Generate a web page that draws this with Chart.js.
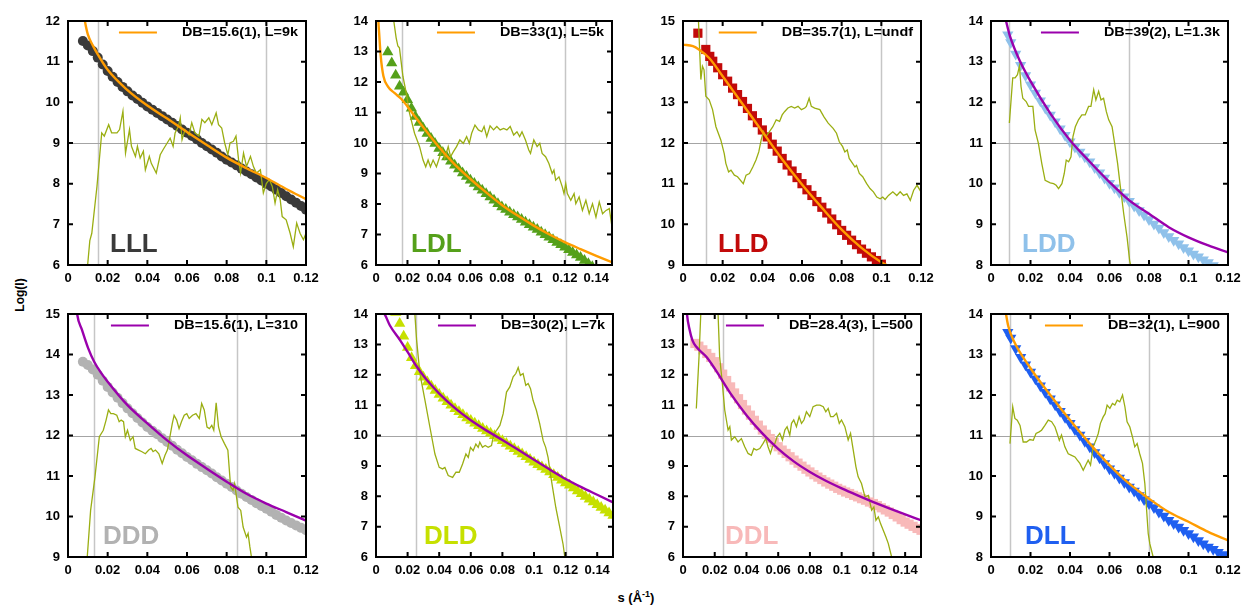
<!DOCTYPE html>
<html>
<head>
<meta charset="utf-8">
<title>SAXS fits</title>
<script src="https://cdn.jsdelivr.net/npm/chart.js@4/dist/chart.umd.min.js"></script>
<style>
  body { margin: 0; background: #fff; font-family: "Liberation Sans", Arial, sans-serif; }
  #page { position: relative; width: 1246px; height: 606px; overflow: hidden; }
  .panel { position: absolute; }
  #ytitle { position: absolute; left: -10px; top: 288px; width: 60px; text-align: center;
            font-weight: bold; font-size: 12px; transform: rotate(-90deg); }
  #xtitle { position: absolute; left: 596px; top: 589px; width: 80px; text-align: center;
            font-weight: bold; font-size: 13px; }
  #xtitle sup { font-size: 9px; }
</style>
</head>
<body>
<div id="page">
  <div id="ytitle">Log(I)</div>
  <div id="xtitle">s (Å<sup>-1</sup>)</div>
</div>
<script>
// tick values
const sTicks12 = [0, 0.02, 0.04, 0.06, 0.08, 0.1, 0.12];
const sTicks15 = [0, 0.02, 0.04, 0.06, 0.08, 0.1, 0.12, 0.14];
const logTicks6to12 = [6, 7, 8, 9, 10, 11, 12];
const logTicks6to14 = [6, 7, 8, 9, 10, 11, 12, 13, 14];
const logTicks9to15 = [9, 10, 11, 12, 13, 14, 15];
const logTicks8to14 = [8, 9, 10, 11, 12, 13, 14];

// ---- LLL ----
const lllPoints = [[0.0075,11.51],[0.01,11.40],[0.0125,11.26],[0.015,11.10],[0.0175,10.93],[0.02,10.77],[0.0225,10.63],[0.025,10.50],[0.0275,10.38],[0.03,10.27],[0.0325,10.17],[0.035,10.08],[0.0375,9.99],[0.04,9.90],[0.0425,9.82],[0.045,9.74],[0.0475,9.66],[0.05,9.58],[0.0525,9.50],[0.055,9.42],[0.0575,9.33],[0.06,9.25],[0.0625,9.17],[0.065,9.09],[0.0675,9.00],[0.07,8.92],[0.0725,8.84],[0.075,8.76],[0.0775,8.67],[0.08,8.59],[0.0825,8.52],[0.085,8.45],[0.0875,8.37],[0.09,8.30],[0.0925,8.23],[0.095,8.15],[0.0975,8.08],[0.1,8.00],[0.1025,7.93],[0.105,7.85],[0.1075,7.77],[0.11,7.69],[0.1125,7.61],[0.115,7.53],[0.1175,7.45],[0.12,7.36]];
const lllFit = [[0.0075,12.3],[0.0085,12.0],[0.01,11.67],[0.0125,11.4],[0.015,11.18],[0.02,10.8],[0.03,10.3],[0.04,9.92],[0.05,9.6],[0.06,9.27],[0.07,8.95],[0.08,8.64],[0.09,8.38],[0.1,8.14],[0.11,7.87],[0.12,7.62]];
const lllDiff = [[0.0099,6.0],[0.011,6.6],[0.012,6.78],[0.0146,7.93],[0.017,9.25],[0.0183,9.17],[0.0205,9.45],[0.022,9.25],[0.0247,9.25],[0.026,9.33],[0.0277,9.78],[0.029,8.75],[0.031,9.33],[0.032,8.92],[0.034,8.67],[0.035,8.92],[0.0364,8.63],[0.038,8.8],[0.039,8.34],[0.041,8.67],[0.042,8.5],[0.0445,8.26],[0.0465,8.71],[0.048,8.84],[0.05,9.0],[0.0515,9.12],[0.053,8.92],[0.054,9.25],[0.0557,9.41],[0.0566,9.62],[0.0575,9.08],[0.059,9.33],[0.061,9.2],[0.0624,9.5],[0.064,9.25],[0.066,9.17],[0.0675,9.58],[0.069,9.5],[0.071,9.62],[0.0725,9.45],[0.0747,9.74],[0.0759,9.45],[0.0775,9.37],[0.079,9.0],[0.0806,8.71],[0.0817,9.0],[0.0834,9.04],[0.0847,9.17],[0.086,8.59],[0.087,8.26],[0.0885,8.75],[0.09,8.42],[0.092,8.67],[0.0935,8.42],[0.095,8.26],[0.097,8.34],[0.0985,7.77],[0.1,8.0],[0.1015,8.1],[0.103,7.93],[0.1044,7.52],[0.1057,7.85],[0.107,7.6],[0.108,7.19],[0.11,7.11],[0.112,6.78],[0.1136,6.45],[0.1153,7.03],[0.117,6.78],[0.1187,6.62],[0.12,6.78]];
const lllCuts = [0.015, 0.1];

// ---- LDL ----
const ldlPoints = [[0.0075,12.98],[0.01,12.62],[0.0125,12.22],[0.015,11.86],[0.0175,11.66],[0.02,11.42],[0.0225,11.14],[0.025,10.87],[0.0275,10.67],[0.03,10.48],[0.0325,10.31],[0.035,10.15],[0.0375,9.98],[0.04,9.82],[0.0425,9.68],[0.045,9.54],[0.0475,9.40],[0.05,9.27],[0.0525,9.15],[0.055,9.02],[0.0575,8.90],[0.06,8.78],[0.0625,8.67],[0.065,8.56],[0.0675,8.45],[0.07,8.34],[0.0725,8.23],[0.075,8.12],[0.0775,8.01],[0.08,7.90],[0.0825,7.82],[0.085,7.73],[0.0875,7.65],[0.09,7.57],[0.0925,7.49],[0.095,7.40],[0.0975,7.32],[0.1,7.24],[0.1025,7.16],[0.105,7.07],[0.1075,6.99],[0.11,6.91],[0.1125,6.83],[0.115,6.74],[0.1175,6.66],[0.12,6.58],[0.1225,6.50],[0.125,6.41],[0.1275,6.33],[0.13,6.25],[0.1325,6.15],[0.135,6.04],[0.1375,5.94]];
const ldlFit = [[0.001,14.6],[0.0015,14.0],[0.002,13.6],[0.003,12.85],[0.0047,12.2],[0.0075,11.86],[0.0117,11.64],[0.016,11.45],[0.02,11.2],[0.025,10.85],[0.03,10.52],[0.04,9.87],[0.05,9.3],[0.06,8.82],[0.07,8.38],[0.08,7.97],[0.09,7.62],[0.1,7.3],[0.11,7.01],[0.12,6.75],[0.13,6.52],[0.14,6.3],[0.15,6.09]];
const ldlDiff = [[0.0113,14.0],[0.0128,13.45],[0.0139,13.18],[0.0149,13.12],[0.0171,12.19],[0.0192,11.64],[0.0213,10.98],[0.0245,10.32],[0.0277,9.88],[0.0299,9.44],[0.0316,9.22],[0.0331,9.44],[0.0346,9.22],[0.0363,9.44],[0.0384,9.22],[0.0405,9.55],[0.0422,9.82],[0.0437,9.49],[0.0459,9.88],[0.0474,9.55],[0.0491,9.71],[0.0512,9.88],[0.0533,10.1],[0.0555,9.99],[0.0576,10.21],[0.0593,9.99],[0.0608,10.32],[0.0629,10.59],[0.0651,10.43],[0.0672,10.37],[0.0687,10.54],[0.0704,10.21],[0.0725,10.56],[0.0747,10.43],[0.0768,10.54],[0.0789,10.43],[0.0811,10.48],[0.0832,10.43],[0.0853,10.54],[0.0875,10.26],[0.0896,10.37],[0.0913,10.21],[0.0928,10.37],[0.095,10.1],[0.0971,9.77],[0.0982,9.66],[0.1003,10.1],[0.1024,9.88],[0.1041,9.99],[0.1056,9.66],[0.1078,9.55],[0.1099,9.33],[0.112,9.0],[0.1131,9.11],[0.1142,8.78],[0.1163,8.89],[0.1184,8.56],[0.1195,8.34],[0.1206,8.67],[0.1216,8.34],[0.1238,8.12],[0.1259,8.34],[0.127,8.01],[0.1291,8.23],[0.1312,7.79],[0.1334,8.12],[0.1355,7.68],[0.1376,8.01],[0.1398,7.57],[0.1419,8.07],[0.144,7.68],[0.1462,7.79],[0.1483,7.85],[0.15,7.24]];
const ldlCuts = [0.0165, 0.12];

// ---- LLD ----
const lldPoints = [[0.0075,14.70],[0.0115,14.30],[0.0135,14.13],[0.015,14.01],[0.0175,13.85],[0.02,13.68],[0.0225,13.52],[0.025,13.35],[0.0275,13.19],[0.03,13.02],[0.0325,12.85],[0.035,12.67],[0.0375,12.50],[0.04,12.32],[0.0425,12.15],[0.045,11.97],[0.0475,11.80],[0.05,11.62],[0.0525,11.46],[0.055,11.31],[0.0575,11.15],[0.06,11.00],[0.0625,10.85],[0.065,10.71],[0.0675,10.56],[0.07,10.42],[0.0725,10.28],[0.075,10.13],[0.0775,9.99],[0.08,9.85],[0.0825,9.73],[0.085,9.61],[0.0875,9.50],[0.09,9.39],[0.0925,9.29],[0.095,9.20],[0.0975,9.11],[0.1,9.02]];
const lldFit = [[0,14.42],[0.005,14.38],[0.008,14.3],[0.0132,14.09],[0.02,13.64],[0.025,13.3],[0.03,12.96],[0.04,12.28],[0.05,11.6],[0.06,10.98],[0.07,10.41],[0.08,9.87],[0.09,9.42],[0.1,9.07],[0.105,8.95]];
const lldDiff = [[0.0078,15.0],[0.009,13.56],[0.0098,13.89],[0.0106,13.8],[0.0115,13.15],[0.0132,13.06],[0.0149,12.82],[0.0166,12.4],[0.0191,12.07],[0.0208,11.74],[0.0216,11.5],[0.023,11.29],[0.0242,11.33],[0.0259,11.21],[0.0275,11.17],[0.0304,11.0],[0.0318,11.21],[0.0335,11.25],[0.0352,11.41],[0.0368,11.58],[0.0382,11.78],[0.0394,12.07],[0.0406,12.28],[0.0419,12.16],[0.0436,12.28],[0.0453,12.4],[0.047,12.57],[0.0487,12.53],[0.05,12.69],[0.0512,12.77],[0.0529,12.86],[0.0546,12.9],[0.0563,12.86],[0.058,12.9],[0.0597,12.82],[0.0614,12.86],[0.0622,12.9],[0.0636,13.1],[0.0647,12.9],[0.0664,12.86],[0.069,12.82],[0.071,12.65],[0.0732,12.49],[0.0757,12.36],[0.0774,12.24],[0.0788,12.03],[0.0805,11.91],[0.0816,11.78],[0.0828,11.83],[0.0838,11.62],[0.0855,11.5],[0.0867,11.41],[0.0875,11.45],[0.0889,11.25],[0.0906,11.17],[0.0926,11.0],[0.0943,10.88],[0.096,10.8],[0.0977,10.67],[0.0994,10.63],[0.1007,10.67],[0.1019,10.61],[0.1036,10.71],[0.1058,10.8],[0.1078,10.71],[0.1095,10.8],[0.1112,10.71],[0.1129,10.75],[0.1146,10.59],[0.1163,10.84],[0.118,10.96],[0.12,10.8]];
const lldCuts = [0.0115, 0.1];

// ---- LDD ----
const lddPoints = [[0.0085,13.66],[0.01,13.47],[0.0125,13.19],[0.015,12.91],[0.0175,12.66],[0.02,12.43],[0.0225,12.23],[0.025,12.04],[0.0275,11.86],[0.03,11.69],[0.0325,11.52],[0.035,11.35],[0.0375,11.19],[0.04,11.03],[0.0425,10.90],[0.045,10.78],[0.0475,10.66],[0.05,10.54],[0.0525,10.40],[0.055,10.27],[0.0575,10.14],[0.06,10.01],[0.0625,9.90],[0.065,9.79],[0.0675,9.68],[0.07,9.57],[0.0725,9.45],[0.075,9.34],[0.0775,9.23],[0.08,9.12],[0.0825,9.01],[0.085,8.91],[0.0875,8.80],[0.09,8.70],[0.0925,8.61],[0.095,8.52],[0.0975,8.43],[0.1,8.35],[0.1025,8.27],[0.105,8.20],[0.1075,8.13],[0.11,8.06],[0.1125,7.99]];
const lddFit = [[0.0065,14.2],[0.0076,14.0],[0.0096,13.63],[0.0147,13.01],[0.02,12.52],[0.03,11.73],[0.04,11.07],[0.05,10.54],[0.06,10.04],[0.07,9.59],[0.08,9.26],[0.09,8.93],[0.1,8.68],[0.11,8.48],[0.12,8.31]];
const lddDiff = [[0.0093,11.49],[0.011,12.6],[0.0122,12.6],[0.0134,12.68],[0.0144,12.89],[0.0152,12.39],[0.0161,12.1],[0.0178,12.02],[0.019,11.9],[0.0212,11.9],[0.0223,11.32],[0.024,10.99],[0.0257,10.5],[0.0274,10.08],[0.03,10.02],[0.0317,10.0],[0.033,9.96],[0.0342,9.88],[0.0359,10.0],[0.0371,10.25],[0.0381,10.58],[0.0393,10.54],[0.0405,10.66],[0.0415,11.16],[0.0427,11.4],[0.0443,11.57],[0.046,11.69],[0.0477,11.69],[0.0494,11.9],[0.0506,11.9],[0.052,12.31],[0.0531,12.06],[0.0545,12.27],[0.0557,12.06],[0.057,12.1],[0.0584,11.77],[0.0596,11.57],[0.0613,11.4],[0.0626,10.99],[0.0641,10.5],[0.0655,9.92],[0.0672,9.26],[0.0689,8.68],[0.0702,8.11],[0.0709,7.94]];
const lddCuts = [0.0093, 0.07];

// ---- DDD ----
const dddPoints = [[0.0075,13.82],[0.01,13.74],[0.0125,13.63],[0.015,13.50],[0.0175,13.35],[0.02,13.20],[0.0225,13.06],[0.025,12.93],[0.0275,12.80],[0.03,12.67],[0.0325,12.55],[0.035,12.43],[0.0375,12.32],[0.04,12.21],[0.0425,12.12],[0.045,12.03],[0.0475,11.93],[0.05,11.84],[0.0525,11.75],[0.055,11.65],[0.0575,11.56],[0.06,11.47],[0.0625,11.39],[0.065,11.30],[0.0675,11.22],[0.07,11.14],[0.0725,11.06],[0.075,10.97],[0.0775,10.89],[0.08,10.81],[0.0825,10.73],[0.085,10.64],[0.0875,10.56],[0.09,10.48],[0.0925,10.41],[0.095,10.33],[0.0975,10.26],[0.1,10.19],[0.1025,10.12],[0.105,10.04],[0.1075,9.97],[0.11,9.90],[0.1125,9.84],[0.115,9.78],[0.1175,9.72],[0.12,9.66]];
const dddFit = [[0.004,15.3],[0.0046,15.0],[0.0071,14.6],[0.0102,14.15],[0.0132,13.82],[0.0165,13.56],[0.02,13.33],[0.03,12.75],[0.04,12.3],[0.05,11.88],[0.06,11.51],[0.07,11.18],[0.08,10.86],[0.09,10.56],[0.1,10.32],[0.11,10.11],[0.12,9.9]];
const dddDiff = [[0.0097,9.0],[0.0114,10.15],[0.0136,10.98],[0.0158,11.97],[0.0178,12.13],[0.0192,12.38],[0.0204,12.63],[0.0216,12.54],[0.0229,12.54],[0.0246,12.5],[0.0258,12.34],[0.0268,12.38],[0.028,12.34],[0.0289,11.97],[0.03,12.13],[0.0314,11.88],[0.0328,11.97],[0.0339,11.68],[0.0356,11.64],[0.0373,11.6],[0.039,11.55],[0.0407,11.64],[0.0419,11.68],[0.0429,11.6],[0.0441,11.64],[0.0458,11.55],[0.0475,11.31],[0.0489,11.51],[0.0501,11.64],[0.0514,11.97],[0.0526,12.3],[0.0535,12.5],[0.0548,12.38],[0.056,12.17],[0.0572,12.34],[0.0586,12.5],[0.0599,12.54],[0.0611,12.42],[0.0628,12.5],[0.0645,12.54],[0.0662,12.42],[0.0674,12.79],[0.0687,12.63],[0.0701,12.21],[0.0713,12.17],[0.0725,12.25],[0.0735,12.13],[0.0747,12.81],[0.0759,12.21],[0.0772,11.97],[0.0789,11.8],[0.0806,11.64],[0.082,10.73],[0.0832,10.65],[0.084,10.81],[0.0857,10.23],[0.0871,10.15],[0.0883,9.74],[0.09,9.49],[0.0908,9.58],[0.0917,9.25],[0.0925,9.0]];
const dddCuts = [0.013, 0.085];

// ---- DLD ----
const dldPoints = [[0.0125,14.05],[0.015,13.69],[0.0175,13.27],[0.02,12.90],[0.0225,12.56],[0.025,12.30],[0.0275,12.10],[0.03,11.92],[0.0325,11.76],[0.035,11.62],[0.0375,11.48],[0.04,11.35],[0.0425,11.23],[0.045,11.11],[0.0475,11.00],[0.05,10.88],[0.0525,10.78],[0.055,10.68],[0.0575,10.58],[0.06,10.49],[0.0625,10.40],[0.065,10.32],[0.0675,10.23],[0.07,10.15],[0.0725,10.07],[0.075,9.99],[0.0775,9.91],[0.08,9.83],[0.0825,9.74],[0.085,9.65],[0.0875,9.56],[0.09,9.47],[0.0925,9.39],[0.095,9.30],[0.0975,9.21],[0.1,9.12],[0.1025,9.04],[0.105,8.96],[0.1075,8.88],[0.11,8.80],[0.1125,8.71],[0.115,8.62],[0.1175,8.53],[0.12,8.44],[0.1225,8.36],[0.125,8.27],[0.1275,8.17],[0.13,8.08],[0.1325,7.99],[0.135,7.90],[0.1375,7.81],[0.14,7.72],[0.1425,7.63],[0.145,7.54],[0.1475,7.45],[0.15,7.37]];
const dldFit = [[0.003,14.15],[0.0057,13.97],[0.0088,13.62],[0.0152,13.14],[0.02,12.75],[0.025,12.33],[0.03,11.97],[0.035,11.66],[0.04,11.38],[0.05,10.9],[0.06,10.5],[0.07,10.16],[0.08,9.85],[0.09,9.53],[0.1,9.2],[0.11,8.88],[0.12,8.57],[0.13,8.3],[0.14,8.05],[0.15,7.8]];
const dldDiff = [[0.0246,14.0],[0.0257,13.14],[0.0278,12.04],[0.031,11.16],[0.0341,10.28],[0.0373,9.39],[0.04,8.95],[0.0421,8.9],[0.0436,8.95],[0.0457,8.68],[0.0485,8.62],[0.0506,8.79],[0.0527,8.79],[0.0548,9.06],[0.0569,9.39],[0.0584,9.28],[0.0598,9.61],[0.0615,9.5],[0.0632,9.72],[0.0647,9.61],[0.0657,9.78],[0.0674,9.61],[0.0691,9.67],[0.071,9.61],[0.0731,9.67],[0.0746,10.06],[0.0763,10.17],[0.0784,10.33],[0.0805,10.72],[0.0826,11.43],[0.0847,11.6],[0.0868,11.93],[0.0885,12.04],[0.09,12.24],[0.0914,11.98],[0.0931,12.04],[0.0948,11.65],[0.0963,11.71],[0.0978,11.54],[0.0994,11.16],[0.1015,10.83],[0.1036,10.39],[0.1058,9.83],[0.1074,9.61],[0.1089,9.28],[0.1104,8.73],[0.1121,8.18],[0.1138,7.63],[0.1159,7.08],[0.1184,6.42],[0.1195,6.0]];
const dldCuts = [0.025, 0.12];

// ---- DDL ----
const ddlPoints = [[0.0075,13.03],[0.01,12.94],[0.0125,12.82],[0.015,12.70],[0.0175,12.57],[0.02,12.43],[0.0225,12.23],[0.025,12.02],[0.0275,11.81],[0.03,11.60],[0.0325,11.40],[0.035,11.21],[0.0375,11.02],[0.04,10.84],[0.0425,10.67],[0.045,10.50],[0.0475,10.34],[0.05,10.18],[0.0525,10.04],[0.055,9.90],[0.0575,9.77],[0.06,9.63],[0.0625,9.52],[0.065,9.41],[0.0675,9.30],[0.07,9.19],[0.0725,9.09],[0.075,8.99],[0.0775,8.89],[0.08,8.80],[0.0825,8.71],[0.085,8.63],[0.0875,8.55],[0.09,8.47],[0.0925,8.40],[0.095,8.33],[0.0975,8.26],[0.1,8.20],[0.1025,8.14],[0.105,8.09],[0.1075,8.03],[0.11,7.98],[0.1125,7.92],[0.115,7.87],[0.1175,7.81],[0.12,7.76],[0.1225,7.69],[0.125,7.62],[0.1275,7.55],[0.13,7.48],[0.1325,7.40],[0.135,7.32],[0.1375,7.23],[0.14,7.15],[0.1425,7.08],[0.145,7.01],[0.1475,6.94],[0.15,6.88]];
const ddlFit = [[0.002,14.4],[0.0025,14.0],[0.0042,13.47],[0.0059,13.14],[0.0084,12.92],[0.0147,12.59],[0.02,12.2],[0.03,11.38],[0.04,10.67],[0.05,10.07],[0.06,9.56],[0.07,9.14],[0.08,8.8],[0.09,8.51],[0.1,8.26],[0.11,8.03],[0.12,7.81],[0.13,7.6],[0.14,7.4],[0.15,7.21]];
const ddlDiff = [[0.0084,10.89],[0.0101,12.59],[0.0112,14.0],[0.0165,null],[0.0221,14.0],[0.0231,12.59],[0.0248,11.71],[0.0263,10.84],[0.0284,10.18],[0.0295,10.29],[0.0305,9.85],[0.0326,9.96],[0.0347,9.79],[0.0368,9.9],[0.0389,9.63],[0.041,9.41],[0.0431,9.35],[0.0446,9.57],[0.0463,9.52],[0.0484,9.57],[0.0505,9.74],[0.0522,9.9],[0.0536,9.63],[0.0551,9.41],[0.0564,9.63],[0.0579,9.74],[0.0593,9.96],[0.061,10.07],[0.0627,9.85],[0.0642,10.18],[0.0656,10.29],[0.0673,10.01],[0.0684,10.4],[0.0698,10.51],[0.0715,10.29],[0.0732,10.62],[0.0747,10.4],[0.0762,10.51],[0.0778,10.78],[0.0799,10.62],[0.082,10.95],[0.0842,11.0],[0.0863,11.0],[0.0884,10.95],[0.09,10.78],[0.0915,10.89],[0.093,10.62],[0.0947,10.62],[0.0968,10.73],[0.0985,10.4],[0.0999,10.51],[0.102,10.29],[0.1041,9.85],[0.1056,10.07],[0.1073,9.52],[0.109,8.97],[0.1104,8.64],[0.1125,8.42],[0.1147,7.98],[0.1168,8.03],[0.1189,7.54],[0.1203,7.65],[0.1216,7.21],[0.1231,7.32],[0.1245,7.1],[0.1262,6.88],[0.1279,6.66],[0.1294,6.44],[0.1315,6.0]];
const ddlCuts = [0.025, 0.12];

// ---- DLL ----
const dllPoints = [[0.0085,13.55],[0.01,13.41],[0.0125,13.15],[0.015,12.93],[0.0175,12.75],[0.02,12.57],[0.0225,12.40],[0.025,12.23],[0.0275,12.07],[0.03,11.91],[0.0325,11.76],[0.035,11.60],[0.0375,11.45],[0.04,11.30],[0.0425,11.15],[0.045,11.01],[0.0475,10.86],[0.05,10.72],[0.0525,10.58],[0.055,10.45],[0.0575,10.31],[0.06,10.18],[0.0625,10.07],[0.065,9.95],[0.0675,9.84],[0.07,9.73],[0.0725,9.63],[0.075,9.52],[0.0775,9.42],[0.08,9.32],[0.0825,9.22],[0.085,9.11],[0.0875,9.01],[0.09,8.91],[0.0925,8.83],[0.095,8.74],[0.0975,8.66],[0.1,8.58],[0.1025,8.50],[0.105,8.41],[0.1075,8.33],[0.11,8.25],[0.1125,8.19],[0.115,8.12],[0.1175,8.06],[0.12,8.00]];
const dllFit = [[0.007,14.2],[0.0076,14.0],[0.0088,13.69],[0.0113,13.36],[0.02,12.66],[0.03,12.0],[0.04,11.38],[0.05,10.8],[0.06,10.27],[0.07,9.81],[0.08,9.44],[0.09,9.11],[0.1,8.87],[0.11,8.62],[0.12,8.41]];
const dllDiff = [[0.0096,10.8],[0.011,11.71],[0.0121,11.42],[0.0133,11.38],[0.0147,11.25],[0.0163,10.84],[0.018,10.84],[0.0197,10.9],[0.0214,10.88],[0.0228,11.05],[0.0244,11.09],[0.0256,11.13],[0.0273,11.25],[0.029,11.38],[0.0307,11.34],[0.0324,11.21],[0.0335,11.05],[0.0346,10.88],[0.0357,11.01],[0.0374,10.72],[0.0391,10.55],[0.0408,10.51],[0.0425,10.47],[0.0437,10.39],[0.045,10.31],[0.0467,10.14],[0.048,10.27],[0.0492,10.39],[0.0504,10.27],[0.0517,10.72],[0.0531,10.88],[0.0543,11.05],[0.0554,11.3],[0.0568,11.46],[0.0578,11.54],[0.0588,11.75],[0.0602,11.67],[0.0615,11.79],[0.0627,11.75],[0.0639,11.87],[0.0652,11.83],[0.0666,12.0],[0.0678,11.71],[0.0689,11.34],[0.0703,11.21],[0.0716,10.97],[0.0728,10.72],[0.074,10.8],[0.0753,10.55],[0.0767,10.31],[0.0779,9.81],[0.0787,9.23],[0.0796,8.58],[0.0804,8.33],[0.0821,8.0]];
const dllCuts = [0.0095, 0.08];

const ORANGE = '#ff9c00';
const PURPLE = '#9a00ac';
const DIFF_GREEN = '#9aae12';
const FONT = '"Liberation Sans", Arial, sans-serif';

const panels = [
  { name: 'LLL', left: 68,  top: 21,  w: 238, h: 244, sMax: 0.12, sTicks: sTicks12, yTicks: logTicks6to12, level: 9,
    color: '#3a3a3a', shape: 'circle', fitColor: ORANGE, note: 'DB=15.6(1), L=9k', labelDx: 42,
    points: lllPoints, fit: lllFit, diff: lllDiff, cuts: lllCuts },
  { name: 'LDL', left: 376, top: 21,  w: 236, h: 244, sMax: 0.15, sTicks: sTicks15, yTicks: logTicks6to14, level: 10,
    color: '#55a01a', shape: 'triangle', fitColor: ORANGE, note: 'DB=33(1), L=5k', labelDx: 35,
    points: ldlPoints, fit: ldlFit, diff: ldlDiff, cuts: ldlCuts },
  { name: 'LLD', left: 683, top: 21,  w: 238, h: 244, sMax: 0.12, sTicks: sTicks12, yTicks: logTicks9to15, level: 12,
    color: '#c20a0a', shape: 'rect', fitColor: ORANGE, note: 'DB=35.7(1), L=undf', labelDx: 35,
    points: lldPoints, fit: lldFit, diff: lldDiff, cuts: lldCuts },
  { name: 'LDD', left: 991, top: 21,  w: 237, h: 244, sMax: 0.12, sTicks: sTicks12, yTicks: logTicks8to14, level: 11,
    color: '#8fc1ea', shape: 'triangle', down: true, fitColor: PURPLE, note: 'DB=39(2), L=1.3k', labelDx: 31,
    points: lddPoints, fit: lddFit, diff: lddDiff, cuts: lddCuts },
  { name: 'DDD', left: 68,  top: 314, w: 238, h: 243, sMax: 0.12, sTicks: sTicks12, yTicks: logTicks9to15, level: 12,
    color: '#b2b2b2', shape: 'circle', fitColor: PURPLE, note: 'DB=15.6(1), L=310', labelDx: 35,
    points: dddPoints, fit: dddFit, diff: dddDiff, cuts: dddCuts },
  { name: 'DLD', left: 376, top: 314, w: 237, h: 243, sMax: 0.15, sTicks: sTicks15, yTicks: logTicks6to14, level: 10,
    color: '#c6e000', shape: 'triangle', fitColor: PURPLE, note: 'DB=30(2), L=7k', labelDx: 48,
    points: dldPoints, fit: dldFit, diff: dldDiff, cuts: dldCuts },
  { name: 'DDL', left: 683, top: 314, w: 238, h: 243, sMax: 0.15, sTicks: sTicks15, yTicks: logTicks6to14, level: 10,
    color: '#f8b9b9', shape: 'rect', fitColor: PURPLE, note: 'DB=28.4(3), L=500', labelDx: 42,
    points: ddlPoints, fit: ddlFit, diff: ddlDiff, cuts: ddlCuts },
  { name: 'DLL', left: 991, top: 314, w: 237, h: 243, sMax: 0.12, sTicks: sTicks12, yTicks: logTicks8to14, level: 11,
    color: '#1f5ff0', shape: 'triangle', down: true, fitColor: ORANGE, note: 'DB=32(1), L=900', labelDx: 34,
    points: dllPoints, fit: dllFit, diff: dllDiff, cuts: dllCuts }
];

const toXY = arr => arr.map(([x, y]) => ({ x, y }));

// marker radius per point style, so the symbols come out about the same size
const markerSize = { circle: 5, triangle: 6.5, rect: 6.5 };

// room around the plot area inside each canvas
const PAD_L = 44, PAD_T = 10, PAD_R = 16, PAD_B = 22;

// cut lines, frame, inward ticks, key and panel name
function panelDecor(p) {
  return {
    id: 'panelDecor',
    beforeDatasetsDraw(chart) {
      const { ctx, chartArea: a, scales: { x, y } } = chart;
      ctx.save();
      ctx.strokeStyle = '#c6c6c6';
      ctx.lineWidth = 1.5;
      p.cuts.forEach(v => {
        const px = Math.round(x.getPixelForValue(v)) + 0.5;
        ctx.beginPath(); ctx.moveTo(px, a.top); ctx.lineTo(px, a.bottom); ctx.stroke();
      });
      ctx.strokeStyle = '#a4a4a4';
      ctx.lineWidth = 1.2;
      const py = Math.round(y.getPixelForValue(p.level)) + 0.5;
      ctx.beginPath(); ctx.moveTo(a.left, py); ctx.lineTo(a.right, py); ctx.stroke();
      ctx.restore();
    },
    afterDatasetsDraw(chart) {
      const { ctx, chartArea: a, scales: { x, y } } = chart;
      ctx.save();
      ctx.strokeStyle = '#000';
      ctx.lineWidth = 2;
      ctx.strokeRect(a.left, a.top, a.right - a.left, a.bottom - a.top);
      const tl = 5;
      ctx.beginPath();
      p.sTicks.forEach(v => {
        const px = x.getPixelForValue(v);
        ctx.moveTo(px, a.bottom); ctx.lineTo(px, a.bottom - tl);
        ctx.moveTo(px, a.top); ctx.lineTo(px, a.top + tl);
      });
      p.yTicks.forEach(v => {
        const py = y.getPixelForValue(v);
        ctx.moveTo(a.left, py); ctx.lineTo(a.left + tl, py);
        ctx.moveTo(a.right, py); ctx.lineTo(a.right - tl, py);
      });
      ctx.stroke();

      // key: sample line + note, right aligned, text stretched a bit wider
      ctx.font = 'bold 12px ' + FONT;
      const stretch = 1.2;
      const tw = ctx.measureText(p.note).width * stretch;
      const tx = a.right - 8;
      ctx.fillStyle = '#000';
      ctx.textBaseline = 'alphabetic';
      ctx.save();
      ctx.translate(tx - tw, a.top + 15);
      ctx.scale(stretch, 1);
      ctx.fillText(p.note, 0, 0);
      ctx.restore();
      const lx1 = tx - tw - 25;
      ctx.strokeStyle = p.fitColor;
      ctx.lineWidth = 2;
      ctx.beginPath(); ctx.moveTo(lx1 - 38, a.top + 11.5); ctx.lineTo(lx1, a.top + 11.5); ctx.stroke();

      // panel name
      ctx.font = 'bold 26px ' + FONT;
      ctx.fillStyle = p.color;
      ctx.fillText(p.name, a.left + p.labelDx, a.bottom - 13);
      ctx.restore();
    }
  };
}

const page = document.getElementById('page');

panels.forEach(p => {
  const holder = document.createElement('div');
  holder.className = 'panel';
  const cw = p.w + PAD_L + PAD_R, ch = p.h + PAD_T + PAD_B;
  holder.style.left = (p.left - PAD_L) + 'px';
  holder.style.top = (p.top - PAD_T) + 'px';
  holder.style.width = cw + 'px';
  holder.style.height = ch + 'px';
  const canvas = document.createElement('canvas');
  canvas.width = cw; canvas.height = ch;
  canvas.style.width = cw + 'px'; canvas.style.height = ch + 'px';
  holder.appendChild(canvas);
  page.appendChild(holder);

  new Chart(canvas.getContext('2d'), {
    type: 'scatter',
    data: {
      datasets: [
        { // model curve
          data: toXY(p.fit), showLine: true, borderColor: p.fitColor, borderWidth: 2.4,
          pointRadius: 0, cubicInterpolationMode: 'monotone', clip: 0
        },
        { // difference trace
          data: toXY(p.diff), showLine: true, borderColor: DIFF_GREEN, borderWidth: 1.3,
          pointRadius: 0, tension: 0, spanGaps: false, clip: 0
        },
        { // measured intensities
          data: toXY(p.points), showLine: false, pointStyle: p.shape,
          pointRotation: p.down ? 180 : 0, pointRadius: markerSize[p.shape],
          backgroundColor: p.color, borderColor: p.color, pointBorderWidth: 0, clip: 0
        }
      ]
    },
    options: {
      responsive: false,
      animation: false,
      events: [],
      devicePixelRatio: 1,
      layout: { padding: { left: 0, top: PAD_T, right: PAD_R, bottom: 0 } },
      plugins: { legend: { display: false }, tooltip: { enabled: false } },
      scales: {
        x: {
          type: 'linear', min: 0, max: p.sMax,
          grid: { display: false, drawTicks: false }, border: { display: false },
          ticks: {
            autoSkip: false, maxRotation: 0, padding: 6, color: '#000',
            font: { family: FONT, size: 13, weight: 'bold' },
            callback: v => String(v)
          },
          afterBuildTicks: s => { s.ticks = p.sTicks.map(v => ({ value: v })); },
          afterFit: s => { s.height = PAD_B; s.paddingLeft = 0; s.paddingRight = 0; }
        },
        y: {
          type: 'linear', min: p.yTicks[0], max: p.yTicks[p.yTicks.length - 1],
          grid: { display: false, drawTicks: false }, border: { display: false },
          ticks: {
            autoSkip: false, padding: 8, color: '#000',
            font: { family: FONT, size: 13, weight: 'bold' },
            callback: v => String(v)
          },
          afterBuildTicks: s => { s.ticks = p.yTicks.map(v => ({ value: v })); },
          afterFit: s => { s.width = PAD_L; s.paddingTop = 0; s.paddingBottom = 0; }
        }
      }
    },
    plugins: [panelDecor(p)]
  });
});
</script>
</body>
</html>
